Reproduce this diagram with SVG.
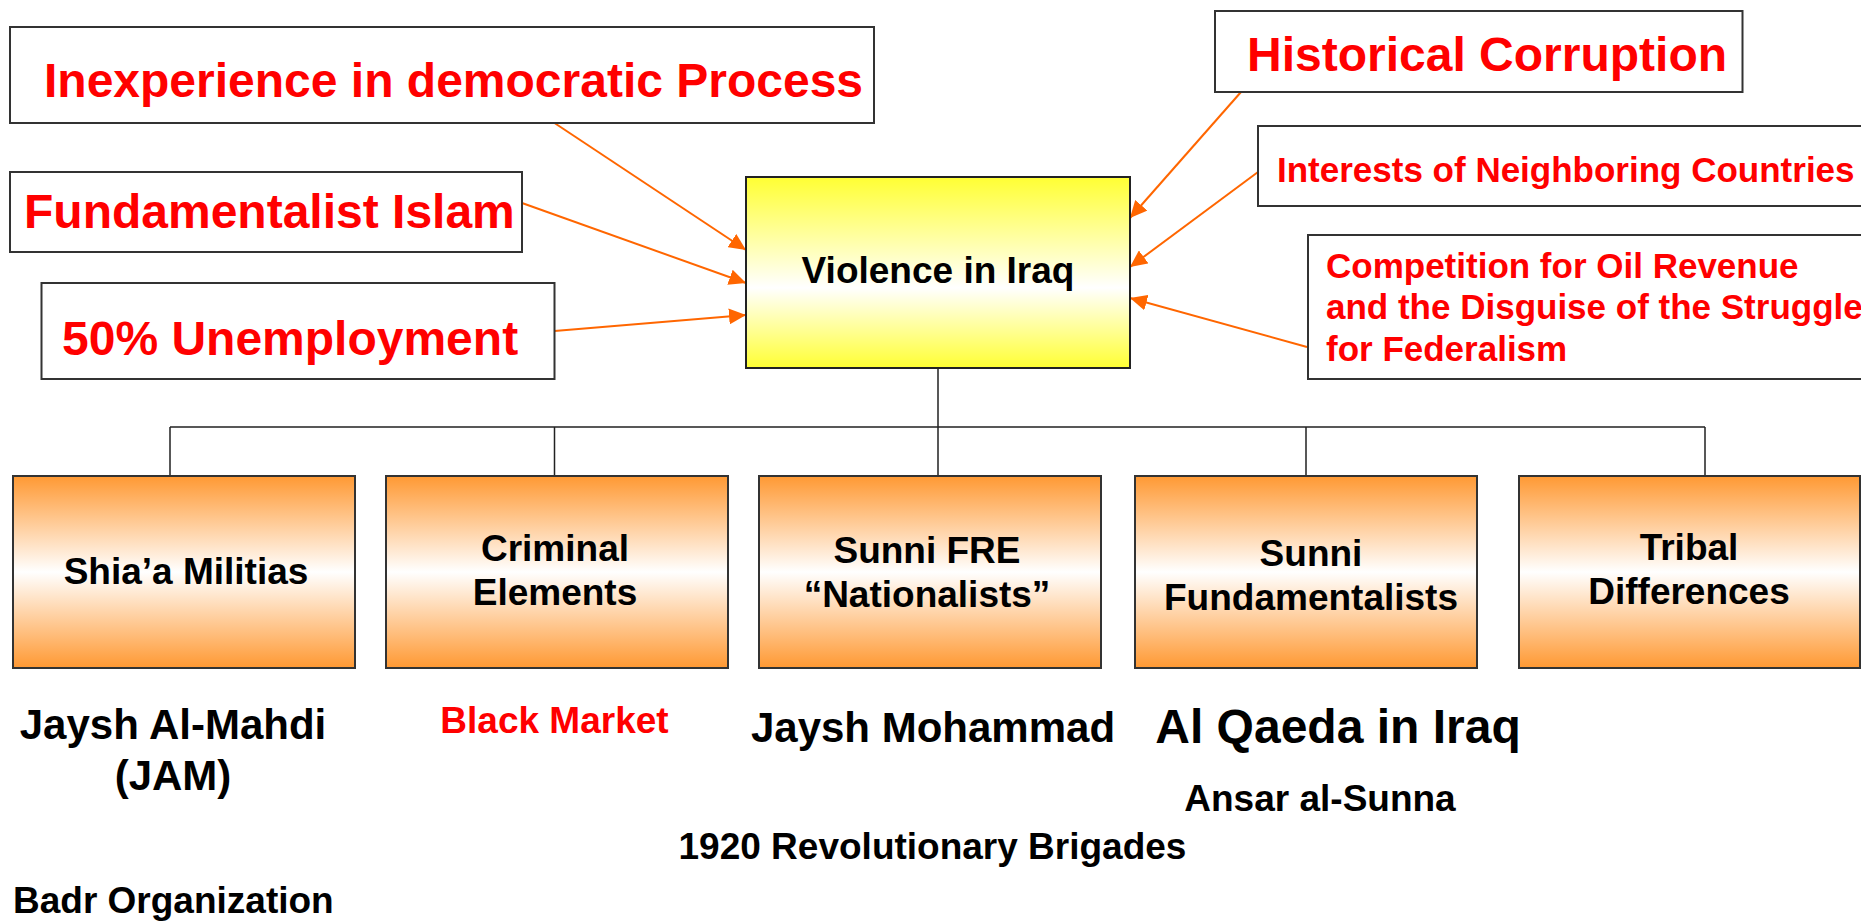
<svg xmlns="http://www.w3.org/2000/svg" width="1861" height="922" viewBox="0 0 1861 922">
<defs>
<linearGradient id="gy" x1="0" y1="0" x2="0" y2="1">
<stop offset="0" stop-color="#FFFF33"/>
<stop offset="0.58" stop-color="#FFFFFF"/>
<stop offset="1" stop-color="#FFFF33"/>
</linearGradient>
<linearGradient id="go" x1="0" y1="0" x2="0" y2="1">
<stop offset="0" stop-color="#FF9933"/>
<stop offset="0.5" stop-color="#FFFFFF"/>
<stop offset="1" stop-color="#FF9933"/>
</linearGradient>
<marker id="ah" markerUnits="userSpaceOnUse" markerWidth="18" markerHeight="16" refX="17" refY="8" orient="auto">
<path d="M0,0 L17,8 L0,16 z" fill="#FF6600"/>
</marker>
<style>
.box{fill:#FFFFFF;stroke:#333333;stroke-width:2}
.yb{fill:url(#gy);stroke:#222222;stroke-width:2}
.ob{fill:url(#go);stroke:#333333;stroke-width:2}
.rt{font-family:"Liberation Sans",Arial,sans-serif;font-weight:bold;fill:#FF0000}
.bt{font-family:"Liberation Sans",Arial,sans-serif;font-weight:bold;fill:#000000}
.arr{stroke:#FF6600;stroke-width:2;fill:none;marker-end:url(#ah)}
.tree{stroke:#222222;stroke-width:1.5;fill:none}
.f48{font-size:48px}
.f42{font-size:42px}
.f37{font-size:37px}
.f35{font-size:35px}
</style>
</defs>
<rect width="1861" height="922" fill="#FFFFFF"/>

<g id="connectors">
<line class="arr" x1="554.5" y1="123" x2="746" y2="250"/>
<line class="arr" x1="522" y1="203" x2="746" y2="283"/>
<line class="arr" x1="554.5" y1="331" x2="746" y2="315"/>
<line class="arr" x1="1241" y1="92" x2="1130" y2="218"/>
<line class="arr" x1="1258" y1="172" x2="1130" y2="267"/>
<line class="arr" x1="1307" y1="347" x2="1130" y2="298"/>
<path class="tree" d="M938,368 V427 M170,427 H1705 M170,427 V476 M554.5,427 V476 M938,427 V476 M1306,427 V476 M1705,427 V476"/>
</g>

<g id="inexperience">
<rect class="box" x="10" y="27" width="864" height="96"/>
<text class="rt f48" x="44" y="97">Inexperience in democratic Process</text>
</g>
<g id="fundamentalist-islam">
<rect class="box" x="10" y="172" width="512" height="80"/>
<text class="rt f48" x="24" y="228">Fundamentalist Islam</text>
</g>
<g id="unemployment">
<rect class="box" x="41.5" y="283" width="513" height="96"/>
<text class="rt f48" x="62" y="355">50% Unemployment</text>
</g>
<g id="historical-corruption">
<rect class="box" x="1215" y="11" width="527.5" height="81"/>
<text class="rt f48" x="1247" y="71">Historical Corruption</text>
</g>
<g id="neighboring">
<rect class="box" x="1258" y="126" width="620" height="80"/>
<text class="rt f35" x="1277" y="182">Interests of Neighboring Countries</text>
</g>
<g id="oil">
<rect class="box" x="1308" y="235" width="570" height="144"/>
<text class="rt f35" x="1326" y="278">Competition for Oil Revenue</text>
<text class="rt f35" x="1326" y="319">and the Disguise of the Struggle</text>
<text class="rt f35" x="1326" y="361">for Federalism</text>
</g>
<g id="violence">
<rect class="yb" x="746" y="177" width="384" height="191"/>
<text class="bt f37" x="938" y="283" text-anchor="middle">Violence in Iraq</text>
</g>

<g id="shia">
<rect class="ob" x="13" y="476" width="342" height="192"/>
<text class="bt f37" x="186" y="584" text-anchor="middle">Shia’a Militias</text>
</g>
<g id="criminal">
<rect class="ob" x="386" y="476" width="342" height="192"/>
<text class="bt f37" x="555" y="561" text-anchor="middle">Criminal</text>
<text class="bt f37" x="555" y="605" text-anchor="middle">Elements</text>
</g>
<g id="sunni-fre">
<rect class="ob" x="759" y="476" width="342" height="192"/>
<text class="bt f37" x="927" y="563" text-anchor="middle">Sunni FRE</text>
<text class="bt f37" x="927" y="607" text-anchor="middle">“Nationalists”</text>
</g>
<g id="sunni-fund">
<rect class="ob" x="1135" y="476" width="342" height="192"/>
<text class="bt f37" x="1311" y="566" text-anchor="middle">Sunni</text>
<text class="bt f37" x="1311" y="610" text-anchor="middle">Fundamentalists</text>
</g>
<g id="tribal">
<rect class="ob" x="1519" y="476" width="341" height="192"/>
<text class="bt f37" x="1689" y="560" text-anchor="middle">Tribal</text>
<text class="bt f37" x="1689" y="604" text-anchor="middle">Differences</text>
</g>

<g id="labels">
<text class="bt f42" x="173" y="739" text-anchor="middle">Jaysh Al-Mahdi</text>
<text class="bt f42" x="173" y="790" text-anchor="middle">(JAM)</text>
<text class="rt f37" x="554.5" y="733" text-anchor="middle">Black Market</text>
<text class="bt f42" x="933" y="742" text-anchor="middle">Jaysh Mohammad</text>
<text class="bt f48" x="1338" y="743" text-anchor="middle">Al Qaeda in Iraq</text>
<text class="bt f37" x="1320" y="811" text-anchor="middle">Ansar al-Sunna</text>
<text class="bt f37" x="932.5" y="859" text-anchor="middle">1920 Revolutionary Brigades</text>
<text class="bt f37" x="13" y="913">Badr Organization</text>
</g>
</svg>
